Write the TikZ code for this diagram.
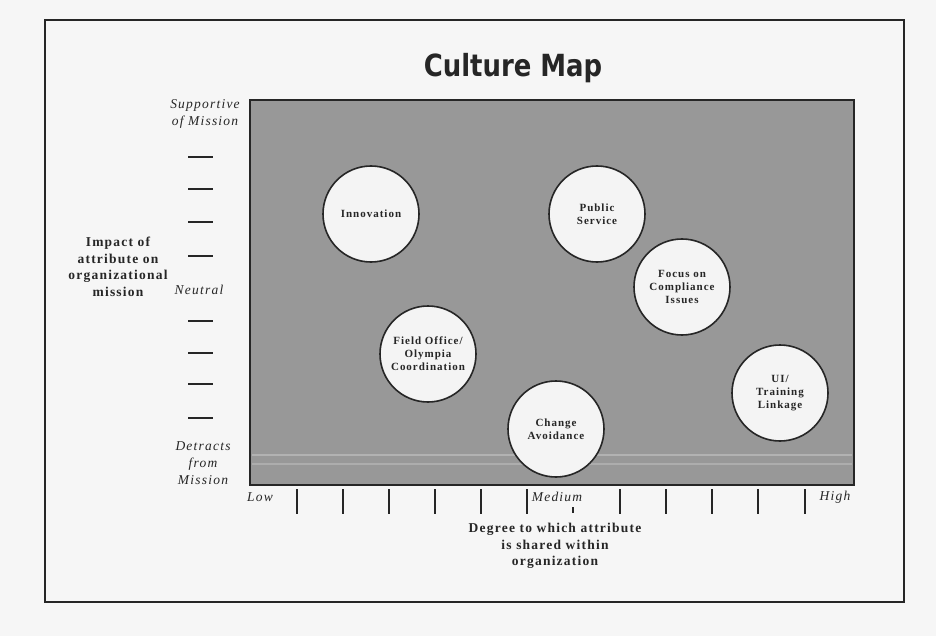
\documentclass[tikz,border=0pt]{standalone}
\usepackage{fontspec}
\setmainfont{Liberation Serif}[LetterSpace=9]
\newfontfamily\titlefont{DejaVu Sans}[FakeStretch=0.85]
\definecolor{ink}{RGB}{38,38,38}
\definecolor{paper}{RGB}{246,246,246}
\definecolor{field}{RGB}{152,152,152}
\definecolor{bubblefill}{RGB}{244,244,244}

\tikzstyle{bubble}=[circle, draw=ink, line width=1.6pt, fill=bubblefill, minimum size=96pt, inner sep=0pt, align=center, text=ink, font=\bfseries\fontsize{11}{13}\selectfont]
\tikzstyle{scale label}=[text=ink, align=center, font=\itshape\fontsize{13.5}{17}\selectfont]
\tikzstyle{axis title}=[text=ink, align=center, font=\bfseries\fontsize{13.5}{16.5}\selectfont]
\tikzstyle{tick}=[draw=ink, line width=1.6pt]

\begin{document}
\begin{tikzpicture}[x=1pt, y=-1pt]
  \useasboundingbox (0,0) rectangle (936,636);
  \fill[paper] (0,0) rectangle (936,636);
  \draw[ink, line width=1.3pt] (45,20) rectangle (904,602);

  \node[text=ink, font=\titlefont\bfseries\fontsize{30.5}{36}\selectfont] (title) at (513,68) {Culture Map};

  % shaded field
  \draw[ink, line width=1.6pt, fill=field] (250,100) rectangle (854,485);
  \draw[white!25!field, line width=1.5pt] (252,455) -- (852,455);
  \draw[white!20!field, line width=1.2pt] (252,464) -- (852,464);

  % vertical scale
  \node[scale label] (supportive) at (205,114) {Supportive\\of Mission};
  \node[scale label] (neutral) at (199,290) {Neutral};
  \node[scale label] (detracts) at (203,463) {Detracts\\from\\Mission};
  \foreach \y in {157,189,222,256,321,353,384,418}
    \draw[tick] (188,\y) -- (213,\y);
  \node[axis title] (impact) at (118,267) {Impact of\\attribute on\\organizational\\mission};

  % horizontal scale
  \foreach \x in {297,343,389,435,481,527,620,666,712,758,805}
    \draw[tick] (\x,489) -- (\x,514);
  \draw[tick, line width=1.2pt] (573,507) -- (573,513);
  \node[scale label] (low) at (260,497) {Low};
  \node[scale label] (medium) at (557,497) {Medium};
  \node[scale label] (high) at (835,497) {High};
  \node[axis title] (degree) at (555,546) {Degree to which attribute\\is shared within\\organization};

  % attributes
  \node[bubble] (innovation) at (371,214) {Innovation};
  \node[bubble] (public) at (597,214) {Public\\Service};
  \node[bubble] (compliance) at (682,287) {Focus on\\Compliance\\Issues};
  \node[bubble] (fieldoffice) at (428,354) {Field Office/\\Olympia\\Coordination};
  \node[bubble] (training) at (780,393) {UI/\\Training\\Linkage};
  \node[bubble] (avoidance) at (556,429) {Change\\Avoidance};
\end{tikzpicture}
\end{document}
